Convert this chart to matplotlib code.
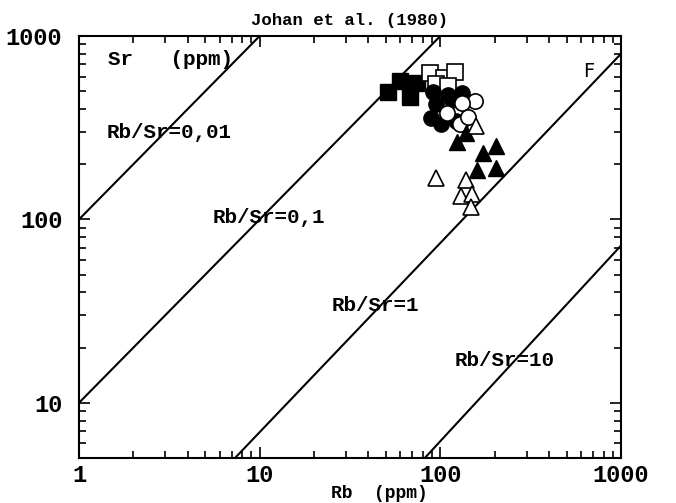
import matplotlib
matplotlib.use("Agg")
import matplotlib.pyplot as plt

plt.rcParams['font.family'] = ['Liberation Mono', 'DejaVu Sans Mono']
plt.rcParams['font.weight'] = 'bold'

# Rb/Sr reference lines, end points (Rb, Sr)
line_names = ['Rb/Sr=0,01', 'Rb/Sr=0,1', 'Rb/Sr=1', 'Rb/Sr=10']
line_rb = [[1, 10], [1, 100], [7.3, 1000], [82, 1000]]
line_sr = [[100, 1000], [10, 1000], [5, 800], [5, 72]]
label_rb = [1.43, 5.5, 25, 120]
label_sr = [296, 102, 34, 17]

# samples (Rb ppm, Sr ppm)
fsq_rb = [51, 60, 74, 68]
fsq_sr = [495, 569, 555, 464]
osq_rb = [88, 105, 120, 95, 110]
osq_sr = [628, 590, 637, 547, 533]
fci_rb = [91, 110, 132, 95, 89, 101, 122, 116]
fci_sr = [495, 476, 489, 425, 357, 331, 344, 448]
oci_rb = [155, 132, 109, 128, 142]
oci_sr = [443, 431, 380, 331, 362]
ftr_rb = [124, 139, 172, 203, 160, 203]
ftr_sr = [264, 296, 230, 251, 186, 190]
otr_rb = [157, 95, 139, 130, 150, 148]
otr_sr = [323, 168, 164, 134, 138, 117]

fig = plt.figure(figsize=(6.76, 5.03), dpi=100)
ax = fig.add_axes([0.1169, 0.0895, 0.8018, 0.839])
ax.set_xscale('log')
ax.set_yscale('log')
ax.set_xlim(1, 1000)
ax.set_ylim(5, 1000)

for rb, sr in zip(line_rb, line_sr):
    ax.plot(rb, sr, color='black', lw=1.5, zorder=2)
for name, x, y in zip(line_names, label_rb, label_sr):
    ax.text(x, y, name, fontsize=15, va='center', ha='left', zorder=3)

ms = 11
ax.plot(fsq_rb, fsq_sr, 's', ms=ms, mfc='black', mec='black', zorder=4)
ax.plot(osq_rb, osq_sr, 's', ms=ms, mfc='white', mec='black', mew=1.2, zorder=4)
ax.plot(fci_rb, fci_sr, 'o', ms=ms, mfc='black', mec='black', zorder=5)
ax.plot(oci_rb, oci_sr, 'o', ms=ms, mfc='white', mec='black', mew=1.2, zorder=5)
ax.plot(ftr_rb, ftr_sr, '^', ms=ms, mfc='black', mec='black', zorder=6)
ax.plot(otr_rb, otr_sr, '^', ms=ms, mfc='white', mec='black', mew=1.2, zorder=6)

ax.text(1.45, 740, 'Sr   (ppm)', fontsize=15, va='center', ha='left')
ax.text(620, 637, 'F', fontsize=14, va='center', ha='left',
        family='DejaVu Sans', weight='normal')

ax.set_xticks([1, 10, 100, 1000])
ax.set_xticklabels(['1', '10', '100', '1000'])
ax.set_yticks([10, 100, 1000])
ax.set_yticklabels(['10', '100', '1000'])
ax.tick_params(which='both', direction='in', top=True, right=True, width=1.2,
               labelsize=17)
ax.tick_params(which='major', length=8)
ax.tick_params(which='minor', length=5)
ax.tick_params(axis='y', pad=12)
ax.tick_params(axis='x', pad=4)
for s in ax.spines.values():
    s.set_linewidth(1.5)

ax.set_title('Johan et al. (1980)', fontsize=12.5, fontweight='bold', pad=8)
ax.set_xlabel('Rb  (ppm)', fontsize=13, fontweight='bold')
ax.xaxis.set_label_coords(0.555, -0.063)

fig.savefig('out.png', dpi=100)
